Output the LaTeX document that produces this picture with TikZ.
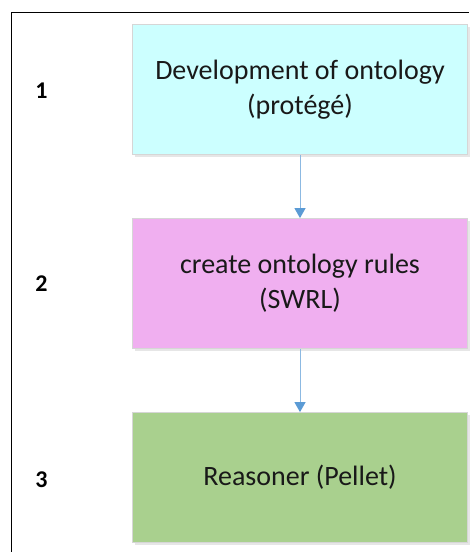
\documentclass[tikz,border=0pt]{standalone}
\usepackage{fontspec}
\setmainfont{Carlito}
\usetikzlibrary{arrows.meta,positioning}
\definecolor{boxA}{HTML}{CCFFFF}
\definecolor{boxB}{HTML}{F0AFF0}
\definecolor{boxC}{HTML}{A9D08E}
\definecolor{edgegray}{HTML}{D6D6D6}
\definecolor{arrowblue}{HTML}{5B9BD5}
\definecolor{shadowgray}{HTML}{E6E6E6}
\tikzset{
  stagebox/.style={draw=edgegray, line width=0.8pt, minimum width=335pt, minimum height=130pt,
    inner sep=0pt, align=center, font=\fontsize{28}{35}\selectfont, text=black!90},
  stagenum/.style={font=\fontsize{24}{26}\selectfont\bfseries, anchor=center},
  flowarrow/.style={draw=arrowblue!70, line width=0.9pt, -{Triangle[length=10pt,width=11pt,fill=arrowblue,color=arrowblue]}},
}
\begin{document}
\begin{tikzpicture}[x=1pt,y=1pt]
\useasboundingbox (0,0) rectangle (469,-552);
\fill[white] (0,0) rectangle (469,-552);
% frame
\draw[line width=1.3pt, black] (11.5,-552) -- (11.5,-12.5) -- (469,-12.5);
% shadows
\foreach \yy in {-89.5,-283.5,-477.5}{
  \fill[shadowgray] (134.5,\yy-67) rectangle (469.5,\yy+63);
}
% boxes
\node[stagebox, fill=boxA] (s1) at (300,-89.5) {Development of ontology\\(protégé)};
\node[stagebox, fill=boxB] (s2) at (300,-283.5) {create ontology rules\\(SWRL)};
\node[stagebox, fill=boxC] (s3) at (300,-477.5) {Reasoner (Pellet)};
% numbers
\node[stagenum] (n1) at (41.5,-91) {1};
\node[stagenum] (n2) at (41.5,-284) {2};
\node[stagenum] (n3) at (41.5,-480) {3};
% arrows
\draw[flowarrow] (s1.south) -- (s2.north);
\draw[flowarrow] (s2.south) -- (s3.north);
\end{tikzpicture}
\end{document}
